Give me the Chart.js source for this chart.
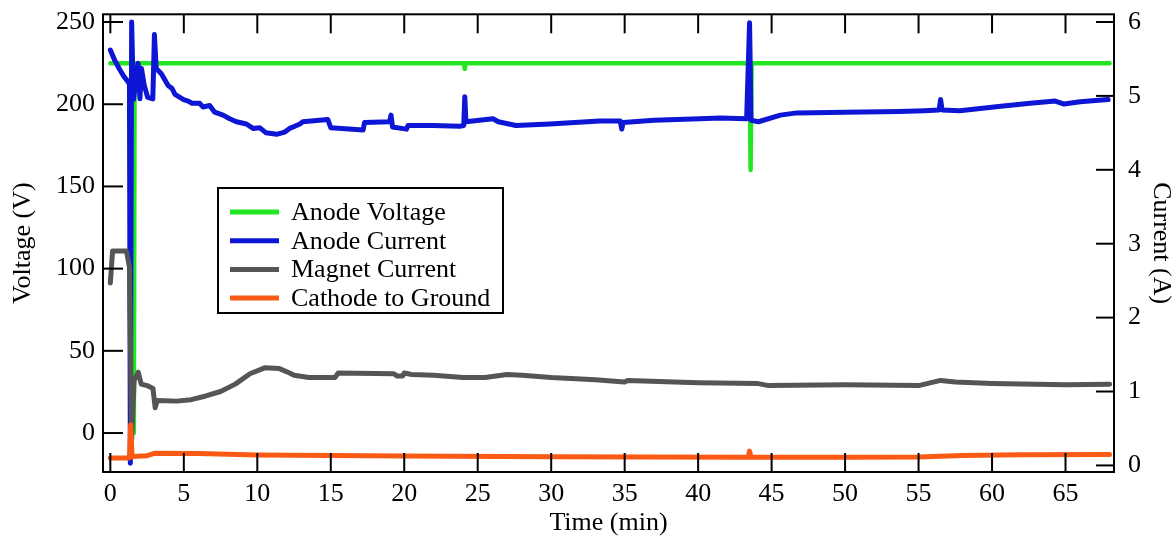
<!DOCTYPE html>
<html><head><meta charset="utf-8">
<script src="https://cdn.jsdelivr.net/npm/chart.js@4.4.0/dist/chart.umd.min.js"></script>
<style>html,body{margin:0;padding:0;background:#fff;} #wrap{width:1176px;height:540px;position:relative;}</style>
</head><body><div id="wrap"><canvas id="c" width="1176" height="540"></canvas></div>
<script>
// ---- data (time in min) ----
const seriesLabels = ["Anode Voltage", "Anode Current", "Magnet Current", "Cathode to Ground"];
const seriesColors = ["#22e622", "#0c16d4", "#555555", "#fa5a14"];

const anodeVoltageTime = [0, 1.55, 1.6, 1.65, 24.07, 24.12, 24.17, 43.5, 43.57, 43.64, 68];
const anodeVoltage     = [225, 225, 0, 225, 225, 221.5, 225, 225, 160, 225, 225];

const anodeCurrentTime = [0.0, 0.3, 0.6, 0.9, 1.2, 1.3, 1.36, 1.45, 1.57, 1.89, 2.01, 2.12, 2.3, 2.54, 2.89, 3.0, 3.12, 3.47, 3.93, 4.2, 4.4, 4.98, 5.3, 5.56, 6.08, 6.3, 6.76, 7.1, 7.67, 8.12, 8.58, 9.26, 9.71, 10.16, 10.6, 11.3, 11.87, 12.2, 12.55, 12.9, 13.1, 14.8, 15.0, 17.2, 17.3, 19.0, 19.1, 19.2, 20.15, 20.26, 21.96, 23.78, 24.05, 24.12, 24.2, 26.04, 26.4, 27.6, 29.9, 33.3, 34.7, 34.8, 34.9, 37, 40.1, 41.5, 43.3, 43.5, 43.6, 44.1, 45.6, 46.7, 50, 53.7, 55.4, 56.4, 56.5, 56.6, 57.8, 59.2, 60.6, 62.6, 64.3, 64.9, 66, 67.9];
const anodeCurrent     = [5.62, 5.48, 5.37, 5.27, 5.19, 5.16, 0.03, 6.0, 4.95, 5.44, 4.96, 5.37, 5.15, 4.98, 4.96, 5.83, 5.37, 5.30, 5.14, 5.10, 5.02, 4.95, 4.93, 4.90, 4.90, 4.85, 4.87, 4.78, 4.74, 4.69, 4.65, 4.62, 4.56, 4.57, 4.50, 4.48, 4.51, 4.56, 4.59, 4.62, 4.65, 4.68, 4.57, 4.54, 4.64, 4.65, 4.74, 4.58, 4.55, 4.60, 4.60, 4.59, 4.60, 4.99, 4.65, 4.69, 4.65, 4.60, 4.62, 4.66, 4.66, 4.55, 4.64, 4.67, 4.69, 4.70, 4.69, 5.99, 4.67, 4.65, 4.74, 4.77, 4.78, 4.79, 4.80, 4.81, 4.95, 4.81, 4.80, 4.83, 4.86, 4.90, 4.93, 4.89, 4.92, 4.95];

const magnetCurrentTime = [0.0, 0.15, 1.1, 1.3, 1.45, 1.62, 1.9, 2.1, 2.5, 2.9, 3.05, 3.2, 4.5, 5.5, 6.5, 7.5, 8.5, 9.5, 10.5, 11.5, 12.2, 12.5, 13.5, 15.3, 15.5, 19.3, 19.5, 19.9, 20, 20.5, 22, 24, 25.5, 27, 28, 30, 33, 35, 35.2, 40, 44, 44.8, 50, 55, 56.5, 57.5, 60, 65, 68];
const magnetCurrent     = [2.47, 2.90, 2.90, 2.68, 0.35, 1.15, 1.26, 1.10, 1.08, 1.04, 0.78, 0.88, 0.87, 0.89, 0.94, 1.00, 1.10, 1.24, 1.32, 1.31, 1.25, 1.22, 1.19, 1.19, 1.25, 1.24, 1.21, 1.21, 1.25, 1.23, 1.22, 1.19, 1.19, 1.23, 1.22, 1.19, 1.16, 1.13, 1.15, 1.12, 1.11, 1.08, 1.09, 1.08, 1.15, 1.13, 1.11, 1.09, 1.10];

const cathodeTime    = [0, 1.3, 1.38, 1.48, 2.5, 3.0, 6, 10, 20, 30, 43.4, 43.5, 43.6, 50, 55, 58, 62, 68];
const cathodeVoltage = [-15.2, -15.2, 5, -14.3, -13.8, -12.3, -12.5, -13.3, -14, -14.5, -14.8, -11, -14.8, -14.8, -14.6, -13.6, -13.2, -13.0];

const timeTicks    = [0, 5, 10, 15, 20, 25, 30, 35, 40, 45, 50, 55, 60, 65];
const voltageTicks = [0, 50, 100, 150, 200, 250];
const currentTicks = [0, 1, 2, 3, 4, 5, 6];

// ---- build ----
const pts = (xs, ys) => xs.map((x, i) => ({x: x, y: ys[i]}));
const FAMILY = "'Liberation Serif', 'DejaVu Serif', serif";
const TICKFONT = {family: FAMILY, size: 26, lineHeight: 1.1};
const TITLEFONT = {family: FAMILY, size: 26, lineHeight: 1.2};
const hiddenGrid = len => ({display: true, drawOnChartArea: false, drawTicks: true, tickLength: len, color: 'rgba(0,0,0,0)'});

const framePlugin = {
  id: 'frame',
  afterDatasetsDraw(chart) {
    const {ctx, chartArea: a, scales} = chart;
    ctx.save();
    ctx.strokeStyle = '#000';
    ctx.lineWidth = 2;
    const line = (x1, y1, x2, y2) => { ctx.beginPath(); ctx.moveTo(x1, y1); ctx.lineTo(x2, y2); ctx.stroke(); };
    scales.x.ticks.forEach(t => {
      const p = scales.x.getPixelForValue(t.value);
      line(p, a.bottom, p, a.bottom - 19);
      line(p, a.top, p, a.top + 19);
    });
    scales.y.ticks.forEach(t => {
      const p = scales.y.getPixelForValue(t.value);
      line(a.left, p, a.left + 20, p);
    });
    scales.y1.ticks.forEach(t => {
      const p = scales.y1.getPixelForValue(t.value);
      line(a.right, p, a.right - 18, p);
    });
    ctx.strokeRect(a.left, a.top, a.right - a.left, a.bottom - a.top);

    // legend
    const lx = 218, ly = 188, lw = 285, lh = 125;
    ctx.fillStyle = '#fff';
    ctx.fillRect(lx, ly, lw, lh);
    ctx.strokeRect(lx, ly, lw, lh);
    ctx.font = "26px " + FAMILY;
    ctx.textBaseline = 'middle';
    ctx.textAlign = 'left';
    chart.data.datasets.forEach((ds, i) => {
      const yy = 212 + i * 28.7;
      ctx.strokeStyle = ds.borderColor;
      ctx.lineWidth = 5;
      line(230, yy, 279, yy);
      ctx.fillStyle = '#000';
      ctx.fillText(ds.label, 291, yy + 1);
    });
    ctx.restore();
  }
};

new Chart(document.getElementById('c'), {
  type: 'line',
  data: {
    datasets: [
      {label: seriesLabels[0], data: pts(anodeVoltageTime, anodeVoltage), yAxisID: 'y', borderColor: seriesColors[0], borderWidth: 4.5, order: 3},
      {label: seriesLabels[1], data: pts(anodeCurrentTime, anodeCurrent), yAxisID: 'y1', borderColor: seriesColors[1], borderWidth: 5, order: 2},
      {label: seriesLabels[2], data: pts(magnetCurrentTime, magnetCurrent), yAxisID: 'y1', borderColor: seriesColors[2], borderWidth: 5, order: 1},
      {label: seriesLabels[3], data: pts(cathodeTime, cathodeVoltage), yAxisID: 'y', borderColor: seriesColors[3], borderWidth: 5, order: 0}
    ]
  },
  options: {
    responsive: false,
    animation: false,
    devicePixelRatio: 1,
    elements: {point: {radius: 0}, line: {tension: 0, borderJoinStyle: 'round', borderCapStyle: 'round'}},
    layout: {padding: {top: 0, left: 0, right: 0, bottom: 0}},
    plugins: {legend: {display: false}, tooltip: {enabled: false}},
    scales: {
      x: {
        type: 'linear', position: 'bottom', min: -0.5, max: 68.3,
        afterBuildTicks: s => { s.ticks = timeTicks.map(v => ({value: v})); },
        afterFit: s => { s.height = 68; },
        ticks: {font: TICKFONT, color: '#000', padding: 0, maxRotation: 0, autoSkip: false, includeBounds: false},
        grid: hiddenGrid(8),
        border: {display: false},
        title: {display: true, text: 'Time (min)', font: TITLEFONT, color: '#000', padding: {top: 0, bottom: 1}}
      },
      y: {
        type: 'linear', position: 'left', min: -23.7, max: 254.7,
        afterBuildTicks: s => { s.ticks = voltageTicks.map(v => ({value: v})); },
        afterFit: s => { s.width = 103; },
        ticks: {font: TICKFONT, color: '#000', padding: 0, includeBounds: false},
        grid: hiddenGrid(8),
        border: {display: false},
        title: {display: true, text: 'Voltage (V)', font: TITLEFONT, color: '#000', padding: {top: 8, bottom: 0}}
      },
      y1: {
        type: 'linear', position: 'right', min: -0.089, max: 6.104,
        afterBuildTicks: s => { s.ticks = currentTicks.map(v => ({value: v})); },
        afterFit: s => { s.width = 62; },
        ticks: {font: TICKFONT, color: '#000', padding: 0, includeBounds: false},
        grid: hiddenGrid(14),
        border: {display: false},
        title: {display: true, text: 'Current (A)', font: TITLEFONT, color: '#000', padding: {top: 0, bottom: 0}}
      }
    }
  },
  plugins: [framePlugin]
});
</script></body></html>
